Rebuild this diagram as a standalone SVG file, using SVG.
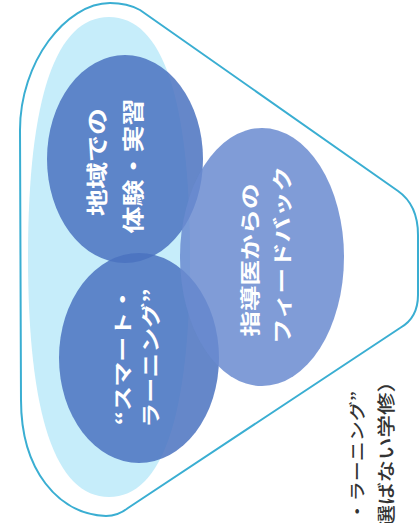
<svg xmlns="http://www.w3.org/2000/svg" width="420" height="523" viewBox="0 0 420 523">
  <style>
    .zone { fill: #c6edfa; }
    .funnel { fill: none; stroke: #3aaed2; stroke-width: 2; stroke-linejoin: round; }
    .dark { fill: #4a72c0; fill-opacity: 0.85; }
    .light { fill: #6a8bd0; fill-opacity: 0.85; }
    .lbl { font-family: "Noto Sans CJK JP", "Noto Sans", sans-serif; fill: #ffffff; text-anchor: middle; font-weight: bold; }
    .cap { font-family: "Noto Sans CJK JP", "Noto Sans", sans-serif; fill: #333333; text-anchor: end; font-weight: 500; }
  </style>
  <rect width="420" height="523" fill="#ffffff"/>
  <g id="zone">
    <path class="zone" d="M 109,17 C 162.5,17 190,98.6 190,257 C 190,415.4 162.5,497 109,497 C 55.5,497 28,415.4 28,257 C 28,98.6 55.5,17 109,17 Z"/>
  </g>
  <g id="node-local">
    <ellipse class="dark" cx="125" cy="159" rx="78" ry="104"/>
  </g>
  <g id="node-smart">
    <ellipse class="dark" cx="139" cy="358" rx="80" ry="105"/>
  </g>
  <g id="node-feedback">
    <ellipse class="light" cx="262" cy="257" rx="82" ry="129"/>
  </g>
  <g id="funnel">
    <path class="funnel" d="M 110,3 C 122,3 131,5 140,10 L 398,191 Q 418,205 418,235 L 418,295 Q 418,318 400,328 L 128,508 Q 118,516 106,516 C 58,514 21,470 21,400 L 20,130 C 20,62 66,3 110,3 Z"/>
  </g>
  <g id="connectors"/>
  <g id="labels">
    <text class="lbl" font-size="27" transform="translate(105,162) rotate(-90) scale(1,0.78)">地域での</text>
    <text class="lbl" font-size="27" transform="translate(141,166) rotate(-90) scale(1,0.78)">体験・実習</text>
    <text class="lbl" font-size="25.5" transform="translate(258,260) rotate(-90) scale(1,0.78)">指導医からの</text>
    <text class="lbl" font-size="25.5" transform="translate(290,255) rotate(-90) scale(1,0.78)">フィードバック</text>
    <text class="lbl" font-size="25" transform="translate(130,356) rotate(-90) scale(1,0.78)">“スマート・</text>
    <text class="lbl" font-size="25" transform="translate(158,358) rotate(-90) scale(1,0.78)">ラーニング”</text>
  </g>
  <g id="caption">
    <text class="cap" font-size="20" transform="translate(363,391) rotate(-90) scale(1,0.8)">・ラーニング”</text>
    <text class="cap" font-size="22.5" transform="translate(393,370) rotate(-90) scale(1,0.82)">選ばない学修）</text>
  </g>
</svg>
